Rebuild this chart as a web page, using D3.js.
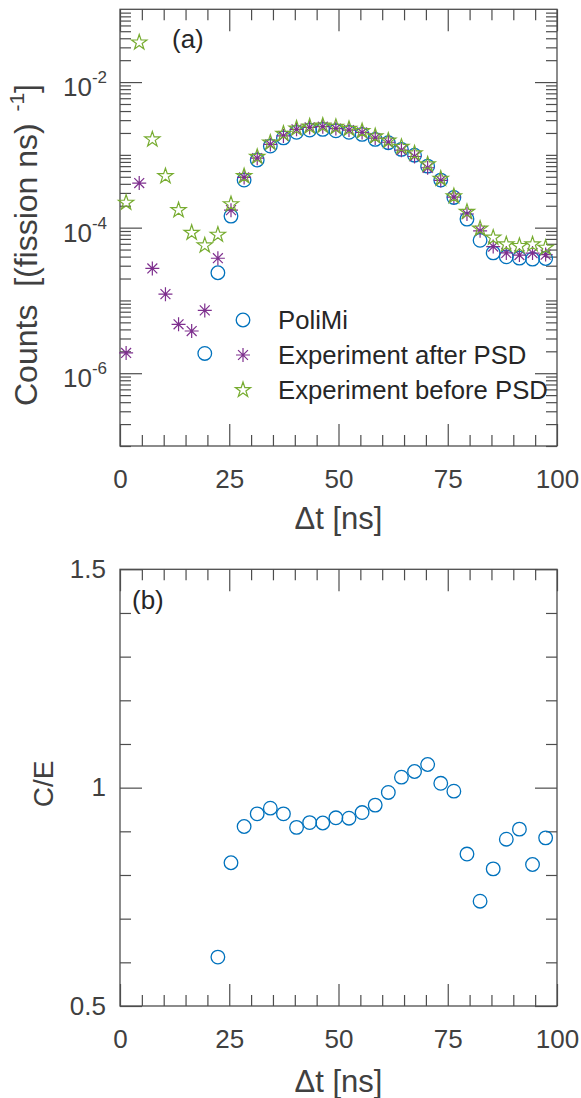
<!DOCTYPE html>
<html lang="en">
<head>
<meta charset="UTF-8">
<title>Counts and C/E</title>
<script src="https://cdn.jsdelivr.net/npm/d3@7"></script>
<style>
    body { margin: 0; background: #fff; }
    text { font-family: "Liberation Sans", Arial, Helvetica, sans-serif; }
</style>
</head>
<body>
<div id="graphic"></div>
<script>
    // time bins [ns]
    var tBins = [1.4, 4.4, 7.4, 10.4, 13.4, 16.4, 19.4, 22.4, 25.4, 28.4, 31.4,
                 34.4, 37.4, 40.4, 43.4, 46.4, 49.4, 52.4, 55.4, 58.4, 61.4, 64.4,
                 67.4, 70.4, 73.4, 76.4, 79.4, 82.4, 85.4, 88.4, 91.4, 94.4, 97.4];

    // counts per fission per ns
    var poliMi = [null, null, null, null, null, null, 1.87e-6, 2.4e-5, 1.44e-4, 4.5e-4, 8.5e-4,
                  1.32e-3, 1.71e-3, 2.04e-3, 2.19e-3, 2.24e-3, 2.14e-3, 2.04e-3, 1.91e-3, 1.63e-3, 1.47e-3, 1.19e-3,
                  9.9e-4, 7.0e-4, 4.5e-4, 2.6e-4, 1.31e-4, 6.7e-5, 4.5e-5, 3.97e-5, 3.81e-5, 3.69e-5, 3.77e-5];
    var afterPSD = [1.9e-6, 4.1e-4, 2.75e-5, 1.22e-5, 4.7e-6, 3.8e-6, 7.3e-6, 3.8e-5, 1.74e-4, 4.9e-4, 9.0e-4,
                    1.39e-3, 1.82e-3, 2.24e-3, 2.38e-3, 2.44e-3, 2.30e-3, 2.19e-3, 2.03e-3, 1.70e-3, 1.49e-3, 1.16e-3,
                    9.5e-4, 6.65e-4, 4.45e-4, 2.62e-4, 1.54e-4, 9.05e-5, 5.5e-5, 4.5e-5, 4.2e-5, 4.48e-5, 4.26e-5];
    var beforePSD = [2.2e-4, 3.5e-2, 1.63e-3, 5.1e-4, 1.74e-4, 8.5e-5, 5.7e-5, 8.0e-5, 2.1e-4, 5.1e-4, 9.4e-4,
                     1.47e-3, 1.95e-3, 2.3e-3, 2.45e-3, 2.52e-3, 2.42e-3, 2.28e-3, 2.12e-3, 1.8e-3, 1.57e-3, 1.29e-3,
                     1.05e-3, 7.4e-4, 4.7e-4, 2.7e-4, 1.65e-4, 9.7e-5, 7.3e-5, 5.9e-5, 5.6e-5, 5.9e-5, 5.3e-5];

    // C/E ratio, bins from 22.4 ns on
    var ratioT = tBins.slice(7);
    var ratioCE = [0.612, 0.828, 0.911, 0.940, 0.953, 0.940, 0.909, 0.920, 0.919, 0.931, 0.930,
                   0.943, 0.960, 0.989, 1.024, 1.037, 1.053, 1.010, 0.992, 0.848, 0.740, 0.814,
                   0.882, 0.905, 0.824, 0.885];

    var xTicks = [0, 25, 50, 75, 100];
    var logTickExps = [-2, -4, -6];
    var ceTicks = [0.5, 1, 1.5];

    var width = 581, height = 1098;
    var axisColor = '#4d4d4d';
    var textColor = '#404040';
    var blue = '#0072BD', purple = '#7E2F8E', green = '#77AC30';

    var svg = d3.select('#graphic')
                .append('svg')
                .attr('width', width)
                .attr('height', height);

    // panel boxes
    var left = 120, right = 557;
    var topA = 9.3, botA = 446;
    var topB = 569.3, botB = 1006;

    var x = d3.scaleLinear().domain([0, 100]).range([left, right]);
    var yA = d3.scaleLog().domain([1e-7, 1e-1]).range([botA, topA]);
    var yB = d3.scaleLinear().domain([0.5, 1.5]).range([botB, topB]);

    var minorX = d3.range(0, 101, 5).filter(function(d) { return d % 25 != 0; });

    function styleAxis(g) {
        g.select('.domain').remove();
        g.selectAll('line').attr('stroke', axisColor).attr('stroke-width', 1.2);
        g.selectAll('text').attr('fill', textColor).style('font-size', '26px');
    }

    function xAxes(yTop, yBot) {
        // bottom ticks with labels
        svg.append('g').attr('transform', 'translate(0,' + yBot + ')')
            .call(d3.axisBottom(x).tickValues(xTicks).tickSize(-22).tickPadding(24).tickFormat(d3.format('d')))
            .call(styleAxis);
        svg.append('g').attr('transform', 'translate(0,' + yBot + ')')
            .call(d3.axisBottom(x).tickValues(minorX).tickSize(-11).tickFormat(''))
            .call(styleAxis);
        // top ticks
        svg.append('g').attr('transform', 'translate(0,' + yTop + ')')
            .call(d3.axisTop(x).tickValues(xTicks).tickSize(-22).tickFormat(''))
            .call(styleAxis);
        svg.append('g').attr('transform', 'translate(0,' + yTop + ')')
            .call(d3.axisTop(x).tickValues(minorX).tickSize(-11).tickFormat(''))
            .call(styleAxis);
    }

    function frame(yTop, yBot) {
        svg.append('rect')
            .attr('x', left).attr('y', yTop)
            .attr('width', right - left).attr('height', yBot - yTop)
            .attr('fill', 'none')
            .attr('stroke', axisColor)
            .attr('stroke-width', 1.3);
    }

    // ---------- panel (a) ----------
    var majorLog = logTickExps.map(function(e) { return Math.pow(10, e); });
    var minorLog = [];
    d3.range(-7, -1).forEach(function(e) {
        for (var m = 1; m < 10; m++) {
            var v = m * Math.pow(10, e);
            if (!(m == 1 && logTickExps.indexOf(e) >= 0)) minorLog.push(v);
        }
    });

    [[d3.axisLeft, left], [d3.axisRight, right]].forEach(function(a) {
        svg.append('g').attr('transform', 'translate(' + a[1] + ',0)')
            .call(a[0](yA).tickValues(majorLog).tickSize(-22).tickFormat(''))
            .call(styleAxis);
        svg.append('g').attr('transform', 'translate(' + a[1] + ',0)')
            .call(a[0](yA).tickValues(minorLog).tickSize(-11).tickFormat(''))
            .call(styleAxis);
    });
    xAxes(topA, botA);
    frame(topA, botA);

    // log tick labels with superscripts
    logTickExps.forEach(function(e) {
        var t = svg.append('text')
            .attr('x', 107)
            .attr('y', yA(Math.pow(10, e)) + 14)
            .attr('text-anchor', 'end')
            .attr('fill', textColor)
            .style('font-size', '26px');
        t.append('tspan').text('10');
        t.append('tspan').attr('dy', -13).style('font-size', '17px').text('-' + Math.abs(e));
    });

    // markers
    function pentagram(r) {
        var pts = [];
        for (var i = 0; i < 10; i++) {
            var rr = i % 2 == 0 ? r : r * 0.382;
            var a = -Math.PI / 2 + i * Math.PI / 5;
            pts.push([rr * Math.cos(a), rr * Math.sin(a)]);
        }
        return 'M' + pts.map(function(p) { return p[0].toFixed(2) + ',' + p[1].toFixed(2); }).join('L') + 'Z';
    }
    function asterisk(r) {
        var d = '';
        for (var i = 0; i < 4; i++) {
            var a = i * Math.PI / 4;
            var dx = r * Math.cos(a), dy = r * Math.sin(a);
            d += 'M' + (-dx).toFixed(2) + ',' + (-dy).toFixed(2) + 'L' + dx.toFixed(2) + ',' + dy.toFixed(2);
        }
        return d;
    }

    var plotA = svg.append('g');

    function seriesPoints(vals) {
        return tBins.map(function(t, i) { return { t: t, v: vals[i] }; })
                    .filter(function(d) { return d.v != null && d.v >= 1e-7 && d.v <= 1e-1; });
    }

    plotA.selectAll('.poli')
        .data(seriesPoints(poliMi))
        .join('circle')
        .attr('class', 'poli')
        .attr('cx', function(d) { return x(d.t); })
        .attr('cy', function(d) { return yA(d.v); })
        .attr('r', 6.8)
        .attr('fill', 'none')
        .attr('stroke', blue)
        .attr('stroke-width', 1.3);

    plotA.selectAll('.after')
        .data(seriesPoints(afterPSD))
        .join('path')
        .attr('class', 'after')
        .attr('transform', function(d) { return 'translate(' + x(d.t) + ',' + yA(d.v) + ')'; })
        .attr('d', asterisk(7))
        .attr('stroke', purple)
        .attr('stroke-width', 1.2);

    plotA.selectAll('.before')
        .data(seriesPoints(beforePSD))
        .join('path')
        .attr('class', 'before')
        .attr('transform', function(d) { return 'translate(' + x(d.t) + ',' + yA(d.v) + ')'; })
        .attr('d', pentagram(8))
        .attr('fill', 'none')
        .attr('stroke', green)
        .attr('stroke-width', 1.2);

    // legend
    var legendItems = ['PoliMi', 'Experiment after PSD', 'Experiment before PSD'];
    var legend = svg.append('g');
    legendItems.forEach(function(name, i) {
        var cy = 320 + i * 35;
        if (i == 0) {
            legend.append('circle').attr('cx', 243).attr('cy', cy).attr('r', 6.8)
                .attr('fill', 'none').attr('stroke', blue).attr('stroke-width', 1.3);
        } else if (i == 1) {
            legend.append('path').attr('transform', 'translate(243,' + cy + ')')
                .attr('d', asterisk(7)).attr('stroke', purple).attr('stroke-width', 1.2);
        } else {
            legend.append('path').attr('transform', 'translate(243,' + cy + ')')
                .attr('d', pentagram(8)).attr('fill', 'none').attr('stroke', green).attr('stroke-width', 1.2);
        }
        legend.append('text')
            .attr('x', 278).attr('y', cy + 9)
            .attr('fill', '#262626')
            .style('font-size', '25.7px')
            .text(name);
    });

    svg.append('text').attr('x', 172).attr('y', 48)
        .attr('fill', '#262626').style('font-size', '26px').text('(a)');

    // axis labels panel (a)
    var yLabA = svg.append('text')
        .attr('transform', 'translate(37,245) rotate(-90)')
        .attr('text-anchor', 'middle')
        .attr('fill', textColor)
        .style('white-space', 'pre')
        .style('font-size', '32px');
    yLabA.append('tspan').text('Counts  [(fission ns)');
    yLabA.append('tspan').attr('dy', -13).style('font-size', '21px').text('  -1');
    yLabA.append('tspan').attr('dy', 13).text(']');

    svg.append('text').attr('x', (left + right) / 2).attr('y', 529)
        .attr('text-anchor', 'middle').attr('fill', textColor)
        .style('font-size', '31px').text('\u0394t [ns]');

    // ---------- panel (b) ----------
    var minorCE = d3.range(0.6, 1.45, 0.1).map(function(d) { return +d.toFixed(1); })
                    .filter(function(d) { return d != 1; });

    svg.append('g').attr('transform', 'translate(' + left + ',0)')
        .call(d3.axisLeft(yB).tickValues(ceTicks).tickSize(-22).tickPadding(14).tickFormat(d3.format('')))
        .call(styleAxis);
    svg.append('g').attr('transform', 'translate(' + left + ',0)')
        .call(d3.axisLeft(yB).tickValues(minorCE).tickSize(-11).tickFormat(''))
        .call(styleAxis);
    svg.append('g').attr('transform', 'translate(' + right + ',0)')
        .call(d3.axisRight(yB).tickValues(ceTicks).tickSize(-22).tickFormat(''))
        .call(styleAxis);
    svg.append('g').attr('transform', 'translate(' + right + ',0)')
        .call(d3.axisRight(yB).tickValues(minorCE).tickSize(-11).tickFormat(''))
        .call(styleAxis);
    xAxes(topB, botB);
    frame(topB, botB);

    svg.append('g').selectAll('.ratio')
        .data(ratioT.map(function(t, i) { return { t: t, v: ratioCE[i] }; }))
        .join('circle')
        .attr('class', 'ratio')
        .attr('cx', function(d) { return x(d.t); })
        .attr('cy', function(d) { return yB(d.v); })
        .attr('r', 6.8)
        .attr('fill', 'none')
        .attr('stroke', blue)
        .attr('stroke-width', 1.3);

    svg.append('text').attr('x', 132).attr('y', 609)
        .attr('fill', '#262626').style('font-size', '26px').text('(b)');

    svg.append('text')
        .attr('transform', 'translate(53,784) rotate(-90)')
        .attr('text-anchor', 'middle')
        .attr('fill', textColor)
        .style('font-size', '28px')
        .text('C/E');

    svg.append('text').attr('x', (left + right) / 2).attr('y', 1092)
        .attr('text-anchor', 'middle').attr('fill', textColor)
        .style('font-size', '31px').text('\u0394t [ns]');
</script>
</body>
</html>
